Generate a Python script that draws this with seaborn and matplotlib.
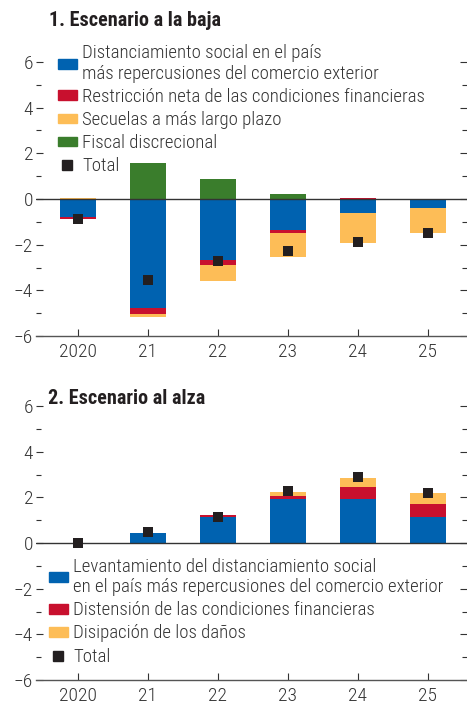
import matplotlib
matplotlib.use('Agg')
import matplotlib.pyplot as plt
from matplotlib.patches import Patch
from matplotlib.lines import Line2D
from matplotlib.ticker import MultipleLocator
import seaborn as sns
import numpy as np

YEARS = ['2020', '21', '22', '23', '24', '25']

# ── PANEL 1: downside scenario ────────────────────────
down_fiscal    = [0.00, 1.57, 0.87, 0.22, 0.00, -0.05]
down_social    = [-0.80, -4.77, -2.67, -1.36, -0.61, -0.34]
down_financial = [-0.06, -0.27, -0.20, -0.12, 0.04, 0.00]
down_scarring  = [0.03, -0.12, -0.72, -1.04, -1.30, -1.12]
down_total     = [-0.86, -3.55, -2.72, -2.26, -1.87, -1.51]

# ── PANEL 2: upside scenario ──────────────────────────
up_social    = [0.00, 0.45, 1.15, 1.91, 1.94, 1.12]
up_financial = [0.00, 0.00, 0.06, 0.16, 0.52, 0.60]
up_scarring  = [0.00, 0.00, 0.00, 0.17, 0.39, 0.48]
up_total     = [0.00, 0.47, 1.16, 2.26, 2.87, 2.21]

BLUE   = '#0062b0'
RED    = '#c8102e'
YELLOW = '#fdbd57'
GREEN  = '#3a7d2c'
BLACK  = '#231f20'
GREY   = '#333333'

sns.set_theme(style='white')
plt.rcParams['font.family'] = ['Roboto Condensed', 'DejaVu Sans']
plt.rcParams['font.weight'] = 'light'
plt.rcParams['font.size'] = 13.5

W, H = 467, 706
fig = plt.figure(figsize=(W / 100, H / 100), dpi=100)
ax1 = fig.add_axes([36 / W, 370 / H, 431 / W, 274 / H])
ax2 = fig.add_axes([36 / W, 26 / H, 431 / W, 274 / H])


def stacked(ax, comps, colors):
    # split positive / negative parts, then overlay cumulative bars
    for sign in (1, -1):
        cum = np.zeros(len(YEARS))
        levels = []
        for vals in comps:
            v = np.array(vals, dtype=float)
            cum = cum + np.where(sign * v > 0, v, 0.0)
            levels.append(cum.copy())
        for lvl, col in reversed(list(zip(levels, colors))):
            sns.barplot(x=YEARS, y=lvl, color=col, saturation=1, width=0.515,
                        linewidth=0, errorbar=None, ax=ax, zorder=2)


def style(ax):
    ax.axhline(0, color=GREY, lw=1.0, zorder=3)
    ax.set_ylim(-6, 6)
    ax.set_xlim(-0.6, 5.56)
    ax.set_xlabel('')
    ax.set_ylabel('')
    for s in ('top', 'left', 'right'):
        ax.spines[s].set_visible(False)
    ax.spines['bottom'].set_color('#555555')
    ax.spines['bottom'].set_linewidth(1.0)
    ax.yaxis.set_major_locator(MultipleLocator(2))
    ax.yaxis.set_minor_locator(MultipleLocator(1))
    ax.tick_params(axis='y', which='both', direction='in', left=True, right=True,
                   color=GREY, width=0.8, labelsize=14, labelcolor=GREY, pad=2)
    ax.tick_params(axis='y', which='major', length=5)
    ax.tick_params(axis='y', which='minor', length=3.5)
    ax.tick_params(axis='x', direction='in', bottom=True, length=5, width=0.8,
                   color=GREY, labelsize=14, labelcolor=GREY, pad=5)


# panel 1
stacked(ax1, [down_fiscal, down_social, down_financial, down_scarring],
        [GREEN, BLUE, RED, YELLOW])
sns.stripplot(x=YEARS, y=down_total, color=BLACK, marker='s', size=7,
              jitter=False, linewidth=0, ax=ax1, zorder=5)
style(ax1)

h1 = [Patch(color=BLUE), Patch(color=RED), Patch(color=YELLOW), Patch(color=GREEN),
      Line2D([], [], color=BLACK, marker='s', markersize=7, linestyle='none')]
l1 = ['Distanciamiento social en el país\nmás repercusiones del comercio exterior',
      'Restricción neta de las condiciones financieras',
      'Secuelas a más largo plazo',
      'Fiscal discrecional',
      'Total']
ax1.legend(h1, l1, loc='upper left', bbox_to_anchor=(0.051, 1.065), frameon=False,
           fontsize=13.5, handlelength=1.0, handleheight=0.43, handletextpad=0.28,
           labelspacing=0.27, borderpad=0, borderaxespad=0, labelcolor=GREY)

# panel 2
stacked(ax2, [up_social, up_financial, up_scarring], [BLUE, RED, YELLOW])
sns.stripplot(x=YEARS, y=up_total, color=BLACK, marker='s', size=7,
              jitter=False, linewidth=0, ax=ax2, zorder=5)
style(ax2)

h2 = [Patch(color=BLUE), Patch(color=RED), Patch(color=YELLOW),
      Line2D([], [], color=BLACK, marker='s', markersize=7, linestyle='none')]
l2 = ['Levantamiento del distanciamiento social\nen el país más repercusiones del comercio exterior',
      'Distensión de las condiciones financieras',
      'Disipación de los daños',
      'Total']
ax2.legend(h2, l2, loc='upper left', bbox_to_anchor=(0.030, 0.447), frameon=False,
           fontsize=13.5, handlelength=1.0, handleheight=0.43, handletextpad=0.28,
           labelspacing=0.27, borderpad=0, borderaxespad=0, labelcolor=GREY)

fig.text(49 / W, 1 - 21 / H, '1. Escenario a la baja', fontsize=14.5,
         fontweight='bold', color=BLACK, va='center', ha='left')
fig.text(48 / W, 1 - 399 / H, '2. Escenario al alza', fontsize=14.5,
         fontweight='bold', color=BLACK, va='center', ha='left')

fig.savefig('out.png', dpi=100)
